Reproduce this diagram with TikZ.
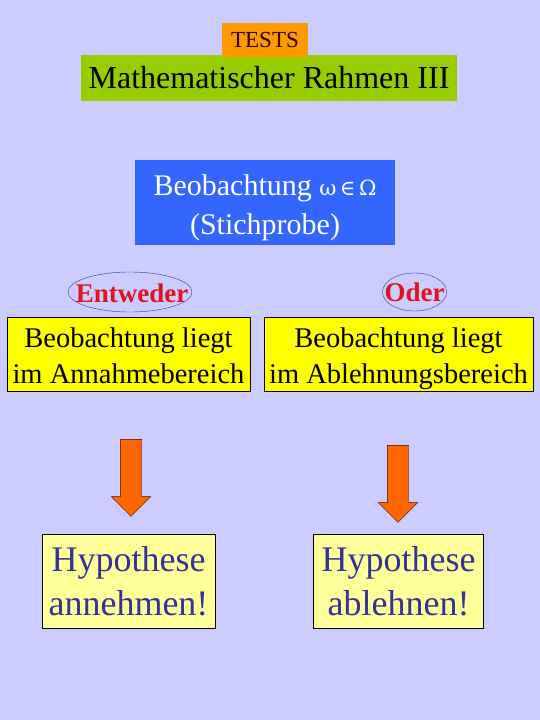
\documentclass[tikz,border=0pt]{standalone}
\usepackage{fontspec}
\setmainfont{Liberation Serif}
\newfontfamily\symbfont{DejaVu Serif}
\usepackage{tikz}
\usetikzlibrary{positioning,shapes.geometric,shapes.arrows}

\definecolor{pagebg}{HTML}{CCCCFF}
\definecolor{testorange}{HTML}{FF9900}
\definecolor{titlegreen}{HTML}{99CC00}
\definecolor{obsblue}{HTML}{3366FF}
\definecolor{areayellow}{HTML}{FFFF00}
\definecolor{hypyellow}{HTML}{FFFF99}
\definecolor{hypblue}{HTML}{333399}
\definecolor{choicered}{HTML}{E0141E}
\definecolor{downorange}{HTML}{FF6600}

% line struts, so that both lines sit at the same height in each box
\newcommand\arealine{\rule[-5.4pt]{0pt}{34pt}}
\newcommand\beobline{\rule[-6.7pt]{0pt}{39pt}}

\begin{document}
\begin{tikzpicture}[x=1pt,y=1pt,
		areabox/.style={draw,
			fill=areayellow,
			inner sep=0pt,
			minimum width=243pt,
			minimum height=74pt,
			align=center,
			font=\fontsize{28.5}{34}\selectfont},
		hypbox/.style={draw,
			fill=hypyellow,
			text=hypblue,
			inner sep=0pt,
			minimum width=173pt,
			minimum height=94pt,
			align=center,
			font=\fontsize{36}{44}\selectfont},
		choice/.style={inner sep=0pt,
			text=choicered,
			font=\fontsize{27}{30}\selectfont\bfseries},
		ring/.style={draw=hypblue},
		downarrow/.style={draw=black!70!red,
			fill=downorange,
			single arrow,
			single arrow head extend=9pt,
			inner xsep=0pt,
			inner ysep=10.5pt,
			minimum height=77pt,
			rotate=-90}
		]
			% background
			\fill[pagebg] (0,0) rectangle (540,-720);
			\useasboundingbox (0,0) rectangle (540,-720);

			% title
			\node [fill=titlegreen,
				minimum width=376pt,
				minimum height=46pt,
				inner sep=0pt,
				font=\fontsize{32}{36}\selectfont
				] (rahmen) at (269,-78) {Mathematischer Rahmen III};

			% label above the title
			\node [fill=testorange,
				text=black!80!red,
				minimum width=86pt,
				minimum height=34pt,
				inner sep=0pt,
				font=\fontsize{23}{26}\selectfont
				] (tests) at (265,-40) {TESTS};

			% observation
			\node [fill=obsblue,
				text=white,
				minimum width=260pt,
				minimum height=85pt,
				inner sep=0pt,
				align=center,
				font=\fontsize{30}{39}\selectfont
				] (beob) at (265,-202.5) {Beobachtung {\symbfont\fontsize{21}{21}\selectfont ω\,∈\,Ω}\beobline\\(Stichprobe)\beobline};

			% either / or
			\node [choice] (entweder) at (132,-293) {Entweder};
			\draw [ring] (130,-292) ellipse [x radius=62pt, y radius=20pt];
			\node [choice] (oder) at (414.5,-292) {Oder};
			\draw [ring] (oder.center) ellipse [x radius=32pt, y radius=19pt];

			% acceptance / rejection region
			\node [areabox] (annahme) at (128.5,-354) {Beobachtung liegt\arealine\\im Annahmebereich\arealine};
			\node [areabox,
				minimum width=269pt
				] (ablehnung) at (398.5,-354) {Beobachtung liegt\arealine\\im Ablehnungsbereich\arealine};

			% arrows
			\node [downarrow] (pfeilA) at (131,-472.5) {};
			\node [downarrow] (pfeilB) at (398,-478.5) {};

			% decisions
			\node [hypbox,
				below=143pt of annahme.south,
				anchor=north
				] (annehmen) {Hypothese\\annehmen!};
			\node [hypbox,
				minimum width=170pt,
				below=143pt of ablehnung.south,
				anchor=north
				] (ablehnen) {Hypothese\\ablehnen!};

		\end{tikzpicture}
\end{document}
